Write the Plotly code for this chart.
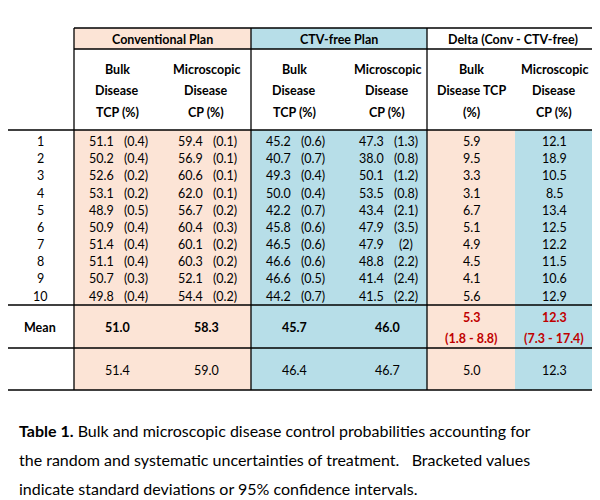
import plotly.graph_objects as go

patients = [str(i) for i in range(1, 11)]
conv_bulk = [51.1, 50.2, 52.6, 53.1, 48.9, 50.9, 51.4, 51.1, 50.7, 49.8]
conv_bulk_sd = ["0.4", "0.4", "0.2", "0.2", "0.5", "0.4", "0.4", "0.4", "0.3", "0.4"]
conv_mic = [59.4, 56.9, 60.6, 62.0, 56.7, 60.4, 60.1, 60.3, 52.1, 54.4]
conv_mic_sd = ["0.1", "0.1", "0.1", "0.1", "0.2", "0.3", "0.2", "0.2", "0.2", "0.2"]
ctv_bulk = [45.2, 40.7, 49.3, 50.0, 42.2, 45.8, 46.5, 46.6, 46.6, 44.2]
ctv_bulk_sd = ["0.6", "0.7", "0.4", "0.4", "0.7", "0.6", "0.6", "0.6", "0.5", "0.7"]
ctv_mic = [47.3, 38.0, 50.1, 53.5, 43.4, 47.9, 47.9, 48.8, 41.4, 41.5]
ctv_mic_sd = ["1.3", "0.8", "1.2", "0.8", "2.1", "3.5", "2", "2.2", "2.4", "2.2"]
delta_bulk = [5.9, 9.5, 3.3, 3.1, 6.7, 5.1, 4.9, 4.5, 4.1, 5.6]
delta_mic = [12.1, 18.9, 10.5, 8.5, 13.4, 12.5, 12.2, 11.5, 10.6, 12.9]
mean_vals = [51.0, 58.3, 45.7, 46.0, 5.3, 12.3]
mean_ci = ["(1.8 - 8.8)", "(7.3 - 17.4)"]
static_vals = [51.4, 59.0, 46.4, 46.7, 5.0, 12.3]

PEACH = "#FCE4D6"
BLUE = "#B7DEE8"
FONT = "Lato"
fig = go.Figure()
shapes = []
ann = []

def rect(x0, y0, x1, y1, fill):
    shapes.append(dict(type="rect", x0=x0, y0=y0, x1=x1, y1=y1, fillcolor=fill,
                       line=dict(width=0), layer="below"))

def line(x0, y0, x1, y1, w=1.3):
    shapes.append(dict(type="line", x0=x0, y0=y0, x1=x1, y1=y1, line=dict(color="black", width=w)))

def txt(x, y, s, bold=False, color="black", size=12.5, xanchor="center"):
    if bold:
        s = "<b>" + s + "</b>"
    ann.append(dict(x=x, y=y, text=s, showarrow=False, xanchor=xanchor, yanchor="middle",
                    font=dict(family=FONT, size=size, color=color)))

rect(74, 28, 251, 49, PEACH)
rect(251, 28, 427, 49, BLUE)
rect(74, 130, 251, 390, PEACH)
rect(251, 130, 427, 390, BLUE)
rect(427, 130, 515, 390, PEACH)
rect(515, 130, 599, 390, BLUE)

line(74, 28, 599, 28)
line(74, 49, 599, 49)
line(4, 130, 599, 130)
line(4, 305, 599, 305)
line(4, 348, 599, 348)
line(4, 390, 599, 390)
line(74, 28, 74, 390)
line(251, 28, 251, 390)
line(427, 28, 427, 390)
line(599, 28, 599, 390)
line(4, 130, 4, 390)

txt(162, 39, "Conventional Plan", bold=True)
txt(339, 39, "CTV-free Plan", bold=True)
txt(513, 39, "Delta (Conv - CTV-free)", bold=True)
subs = [["Bulk", "Disease", "TCP (%)"], ["Microscopic", "Disease", "CP (%)"],
        ["Bulk", "Disease", "TCP (%)"], ["Microscopic", "Disease", "CP (%)"],
        ["Bulk", "Disease TCP", "(%)"], ["Microscopic", "Disease", "CP (%)"]]
centers = [117, 206, 294, 387, 471, 554]
for c, s in zip(centers, subs):
    for k, part in enumerate(s):
        txt(c, 69 + k * 21.5, part, bold=True)
txt(7, 120, "Patient", bold=True, xanchor="left")

rows_y = [141.5 + i * (296 - 141.5) / 9 for i in range(10)]

series = [(conv_bulk, conv_bulk_sd), (conv_mic, conv_mic_sd),
          (ctv_bulk, ctv_bulk_sd), (ctv_mic, ctv_mic_sd)]
for i, p in enumerate(patients):
    y = rows_y[i]
    txt(40, y, p)
    for c, (vals, sds) in zip(centers[:4], series):
        txt(c - 16, y, f"{vals[i]:.1f}")
        txt(c + 19, y, f"({sds[i]})")
    txt(centers[4], y, f"{delta_bulk[i]:.1f}")
    txt(centers[5], y, f"{delta_mic[i]:.1f}")

txt(40, 327, "Mean", bold=True)
for c, v in zip(centers[:4], mean_vals[:4]):
    txt(c, 327, f"{v:.1f}", bold=True)
for j, c in enumerate(centers[4:]):
    txt(c, 317, f"{mean_vals[4 + j]:.1f}", bold=True, color="#C00000")
    txt(c, 338, mean_ci[j], bold=True, color="#C00000")

txt(7, 359, "Static Plan", bold=True, xanchor="left")
txt(7, 380, "Mean", bold=True, xanchor="left")
for c, v in zip(centers, static_vals):
    txt(c, 370, f"{v:.1f}")

cap_lines = ["<b>Table 1.</b> Bulk and microscopic disease control probabilities accounting for",
             "the random and systematic uncertainties of treatment.   Bracketed values",
             "indicate standard deviations or 95% confidence intervals."]
for k, s in enumerate(cap_lines):
    ann.append(dict(x=17, y=430 + k * 29, text=s, showarrow=False, xanchor="left", yanchor="middle",
                    font=dict(family=FONT, size=16, color="black")))

fig.update_layout(width=600, height=500, margin=dict(l=0, r=0, t=0, b=0),
                  paper_bgcolor="white", plot_bgcolor="white",
                  xaxis=dict(range=[8, 608], visible=False, fixedrange=True),
                  yaxis=dict(range=[508, 8], visible=False, fixedrange=True),
                  shapes=shapes, annotations=ann, showlegend=False)
fig.write_html("out.html")
